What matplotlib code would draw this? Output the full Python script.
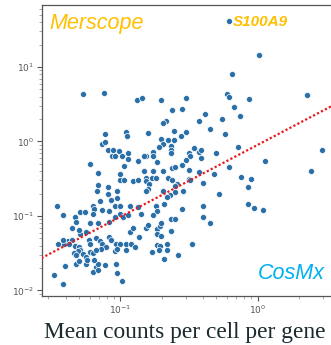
import numpy as np
import matplotlib
matplotlib.use("Agg")
import matplotlib.pyplot as plt

# log10 of mean counts per cell per gene, one entry per gene
cosmx_log = [
    -0.21, 0.01, -0.19, -1.27, -1.12, -0.88, -0.84, -0.70, -0.52, -0.22,
    -0.21, 0.36, -0.06, -0.17, -0.13, -0.62, -0.55, -0.38, -0.26, -0.43,
    -0.67, -0.69, -0.61, -0.80, -0.56, -0.52, -0.35, -0.24, -0.70, -0.65,
    -0.61, -0.69, -0.72, -0.63, -0.63, -0.63, -0.76, -0.76, -0.81, -0.83,
    -0.46, -0.43, -0.41, -0.50, -0.49, -0.30, -0.14, -0.73, -0.52, -0.55,
    -0.41, -0.62, -0.60, -0.83, -0.76, -0.69, -0.50, -0.43, -0.32, -0.21,
    -0.81, -0.77, -0.74, -0.65, -0.62, -0.50, -0.49, -0.81, -0.79, -0.59,
    -0.60, -0.40, -0.80, -0.81, -0.69, -0.60, -0.28, -0.64, -0.66, -0.54,
    -0.74, -0.73, -0.76, -0.68, -0.55, -0.40, -0.85, -0.40, -0.63, -0.60,
    -0.35, -0.81, -0.80, -0.73, -0.71, -0.70, -0.63, -0.73, -0.70, -0.73,
    -0.71, -0.66, -0.48, -0.77, -0.72, -0.66, -0.58, -0.68, 0.05, 0.47,
    0.39, -0.12, -0.05, -0.07, -0.07, -0.03, 0.04, -1.11, -0.96, -0.95,
    -1.13, -1.11, -1.09, -1.05, -1.01, -0.94, -1.06, -1.04, -0.99, -0.94,
    -0.87, -1.22, -0.97, -1.16, -1.00, -1.00, -0.97, -0.91, -0.87, -1.16,
    -1.17, -1.09, -1.02, -1.46, -1.42, -1.20, -1.19, -1.29, -1.26, -1.09,
    -1.02, -1.07, -1.15, -1.20, -1.13, -1.08, -1.04, -1.00, -1.00, -0.93,
    -0.87, -1.33, -1.32, -1.35, -1.22, -1.16, -1.08, -1.04, -0.98, -0.94,
    -0.93, -0.91, -0.86, -1.29, -1.30, -1.25, -1.38, -1.45, -1.41, -1.42,
    -1.35, -1.37, -1.23, -1.22, -1.18, -1.15, -1.13, -1.10, -1.08, -1.07,
    -1.03, -1.00, -0.96, -0.92, -0.89, -1.33, -1.30, -1.29, -1.31, -1.34,
    -1.32, -1.27, -1.25, -1.22, -1.20, -1.14, -1.18, -1.04, -1.02, -0.96,
    -1.40, -1.32, -1.30, -1.25, -1.24, -1.18, -1.16, -1.19, -1.11, -1.20,
    -1.16, -1.03, -1.02, -1.48, -1.42, -0.99,
]
merscope_log = [
    1.62, 1.16, 0.91, 0.64, 0.65, 0.56, 0.58, 0.56, 0.59, 0.64,
    0.60, 0.63, 0.57, 0.46, 0.34, 0.42, 0.43, 0.37, 0.30, 0.28,
    0.27, 0.25, 0.14, 0.12, 0.08, 0.13, 0.17, 0.10, 0.03, 0.02,
    0.02, -0.04, -0.08, -0.06, -0.12, -0.16, -0.14, -0.19, -0.19, -0.20,
    -0.09, -0.14, -0.12, -0.16, -0.20, -0.15, -0.08, -0.27, -0.25, -0.31,
    -0.22, -0.36, -0.34, -0.39, -0.39, -0.39, -0.38, -0.41, -0.43, -0.34,
    -0.49, -0.49, -0.49, -0.49, -0.52, -0.50, -0.52, -0.53, -0.57, -0.57,
    -0.60, -0.56, -0.64, -0.66, -0.67, -0.68, -0.70, -0.72, -0.75, -0.67,
    -0.87, -0.93, -0.98, -0.84, -0.91, -0.86, -0.97, -1.01, -1.04, -1.04,
    -1.10, -1.16, -1.12, -1.18, -1.14, -1.10, -1.20, -1.24, -1.27, -1.39,
    -1.40, -1.37, -1.37, -1.48, -1.46, -1.45, -1.53, -1.58, -0.26, -0.12,
    -0.39, -0.48, -0.50, -0.61, -0.84, -0.89, -0.92, 0.10, 0.13, 0.08,
    -0.03, -0.01, -0.12, -0.12, -0.13, -0.16, -0.20, -0.20, -0.20, -0.24,
    -0.26, -0.30, -0.33, -0.42, -0.43, -0.52, -0.52, -0.53, -0.52, -0.59,
    -0.67, -0.61, -0.66, -0.86, -0.99, -0.87, -0.90, -0.95, -0.95, -0.71,
    -0.76, -0.79, -0.80, -0.97, -0.92, -0.93, -0.87, -0.87, -0.97, -0.87,
    -0.88, -1.01, -1.08, -1.16, -1.10, -1.10, -1.08, -1.02, -1.01, -0.99,
    -1.21, -1.16, -1.28, -1.24, -1.19, -1.21, -1.33, -1.37, -1.37, -1.32,
    -1.32, -1.37, -1.32, -1.37, -1.29, -1.33, -1.37, -1.41, -1.28, -1.32,
    -1.37, -1.38, -1.37, -1.38, -1.41, -1.40, -1.41, -1.46, -1.47, -1.50,
    -1.52, -1.51, -1.55, -1.48, -1.50, -1.44, -1.46, -1.47, -1.44, -1.45,
    -1.67, -1.64, -1.60, -1.64, -1.59, -1.68, -1.64, -1.59, -1.66, -1.75,
    -1.72, -1.64, -1.77, -1.79, -1.91, -1.87,
]

# trend line end points
line_x = [0.025, 4.0]
line_y = [0.0255, 3.44]

x = 10 ** np.array(cosmx_log)
y = 10 ** np.array(merscope_log)

fig = plt.figure(figsize=(3.31, 3.45), dpi=100)
ax = fig.add_axes([0.126, 0.142, 0.9015, 0.8435])

ax.scatter(x, y, s=19, color="#2a6fa8", edgecolor="white", linewidth=0.5, zorder=2)
ax.plot(line_x, line_y, color="#e8191b", linestyle=(0, (1, 1)), linewidth=1.6, zorder=3)

ax.set_xscale("log")
ax.set_yscale("log")
ax.set_xlim(10 ** -1.5715, 10 ** 0.6)
ax.set_ylim(10 ** -2.074, 10 ** 1.832)

for side in ["left", "bottom", "top", "right"]:
    ax.spines[side].set_color("#555555")
    ax.spines[side].set_linewidth(0.9)
ax.tick_params(which="major", length=3.5, width=0.8, color="#555555",
               labelsize=6.5, labelcolor="#555555", pad=2)
ax.tick_params(which="minor", length=2, width=0.6, color="#999999")

fig.text(0.148, 0.916, "Merscope", color="#FFC000", fontsize=15.5,
         style="italic", family="Liberation Sans", va="baseline")
fig.text(0.704, 0.9246, "S100A9", color="#FFC000", fontsize=11,
         style="italic", weight="bold", family="Liberation Sans", va="baseline")
fig.text(0.779, 0.191, "CosMx", color="#00B0F0", fontsize=15.5,
         style="italic", family="Liberation Sans", va="baseline")
fig.text(0.557, 0.0203, "Mean counts per cell per gene", color="#1a2a2e",
         fontsize=16.8, family="Liberation Serif", ha="center", va="baseline")

fig.savefig("out.png", dpi=100)
